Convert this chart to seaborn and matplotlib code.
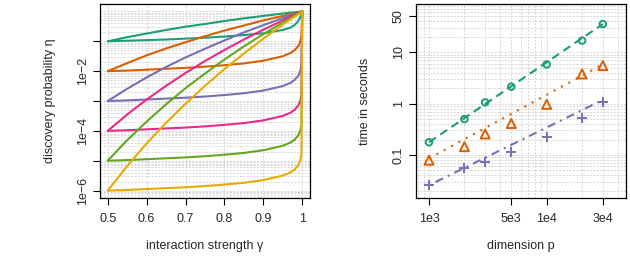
import numpy as np
import pandas as pd
import matplotlib
matplotlib.use("Agg")
import matplotlib.pyplot as plt
import seaborn as sns
from matplotlib.ticker import LogLocator, NullFormatter, FixedLocator

# left panel: discovery probability (log10 values)
gamma_up = [0.5, 0.55, 0.6, 0.65, 0.7, 0.75, 0.8, 0.85, 0.9, 0.95, 1.0]
up_teal = [-1, -0.86, -0.74, -0.62, -0.51, -0.42, -0.32, -0.23, -0.15, -0.07, 0]
up_orange = [-2, -1.73, -1.47, -1.24, -1.03, -0.83, -0.64, -0.47, -0.30, -0.15, 0]
up_purple = [-3, -2.59, -2.21, -1.86, -1.54, -1.25, -0.97, -0.70, -0.46, -0.22, 0]
up_pink = [-4, -3.45, -2.95, -2.49, -2.06, -1.66, -1.29, -0.94, -0.61, -0.30, 0]
up_green = [-5, -4.31, -3.69, -3.11, -2.57, -2.08, -1.61, -1.17, -0.76, -0.37, 0]
up_yellow = [-6, -5.18, -4.42, -3.73, -3.09, -2.49, -1.93, -1.41, -0.91, -0.44, 0]

gamma_low = [0.5, 0.55, 0.6, 0.65, 0.7, 0.75, 0.8, 0.85, 0.9, 0.95, 0.97, 0.98, 0.99, 0.995, 0.998, 1.0]
low_teal = [-1, -0.98, -0.96, -0.94, -0.91, -0.88, -0.84, -0.79, -0.73, -0.62, -0.54, -0.46, -0.32, -0.20, -0.10, 0]
low_orange = [-2, -1.98, -1.95, -1.92, -1.89, -1.85, -1.80, -1.74, -1.65, -1.50, -1.39, -1.30, -1.16, -1.02, -0.83, 0]
low_purple = [-3, -2.98, -2.95, -2.92, -2.89, -2.85, -2.80, -2.74, -2.65, -2.50, -2.39, -2.30, -2.15, -2.00, -1.80, 0]
low_pink = [-4, -3.98, -3.95, -3.92, -3.89, -3.85, -3.80, -3.74, -3.65, -3.50, -3.39, -3.30, -3.15, -3.00, -2.80, 0]
low_green = [-5, -4.98, -4.95, -4.92, -4.89, -4.85, -4.80, -4.74, -4.65, -4.50, -4.39, -4.30, -4.15, -4.00, -3.80, 0]
low_yellow = [-6, -5.98, -5.95, -5.92, -5.89, -5.85, -5.80, -5.74, -5.65, -5.50, -5.39, -5.30, -5.15, -5.00, -4.80, 0]

# right panel: timings
dims = [1000, 2000, 3000, 5000, 10000, 20000, 30000]
time_circle = [0.177, 0.50, 1.06, 2.14, 5.8, 16.9, 35.6]
time_triangle = [0.079, 0.145, 0.256, 0.41, 0.97, 3.79, 5.5]
time_plus = [0.0257, 0.055, 0.072, 0.116, 0.227, 0.53, 1.06]
dims_fit = [1000, 30000]
fit_circle = [0.177, 35.5]
fit_triangle = [0.086, 5.8]
fit_plus = [0.0257, 1.18]

colors = ["#1B9E77", "#D95F02", "#7570B3", "#E7298A", "#66A61E", "#E6AB02"]
ups = [up_teal, up_orange, up_purple, up_pink, up_green, up_yellow]
lows = [low_teal, low_orange, low_purple, low_pink, low_green, low_yellow]

sns.set_style("ticks")
plt.rcParams["font.family"] = ["Liberation Sans", "DejaVu Sans"]
plt.rcParams["font.size"] = 9
plt.rcParams["axes.linewidth"] = 0.9

fig = plt.figure(figsize=(6.3, 2.7), dpi=100)
ax1 = fig.add_axes([100 / 630, 72 / 270, 210 / 630, 194 / 270])
ax2 = fig.add_axes([415.7 / 630, 72 / 270, 210.3 / 630, 194 / 270])

grid_kw = dict(color="#d6d6d6", linestyle=(0, (2, 1.5)), linewidth=0.7)

# ---- left
for c, u, l in zip(colors, ups, lows):
    sns.lineplot(x=gamma_up, y=10 ** np.array(u), ax=ax1, color=c, lw=1.5,
                 sort=False, estimator=None, legend=False)
    sns.lineplot(x=gamma_low, y=10 ** np.array(l), ax=ax1, color=c, lw=1.5,
                 sort=False, estimator=None, legend=False)

ax1.set_yscale("log")
ax1.set_xlim(0.48, 1.02)
ax1.set_ylim(10 ** -6.25, 10 ** 0.25)
ax1.set_xticks([0.5, 0.6, 0.7, 0.8, 0.9, 1.0])
ax1.set_xticklabels(["0.5", "0.6", "0.7", "0.8", "0.9", "1"])
ax1.yaxis.set_major_locator(FixedLocator([1e-6, 1e-5, 1e-4, 1e-3, 1e-2, 1e-1]))
ax1.set_yticklabels(["1e\u22126", "", "1e\u22124", "", "1e\u22122", ""])
ax1.yaxis.set_minor_locator(LogLocator(base=10, subs=np.arange(1, 10), numticks=30))
ax1.yaxis.set_minor_formatter(NullFormatter())
ax1.grid(True, which="both", axis="y", **grid_kw)
ax1.grid(True, which="major", axis="x", **grid_kw)
ax1.set_xlabel("interaction strength \u03b3")
ax1.set_ylabel("discovery probability \u03b7")

# ---- right
sns.lineplot(x=dims_fit, y=fit_circle, ax=ax2, color=colors[0], lw=1.5,
             linestyle=(0, (4, 2.5)), legend=False)
sns.lineplot(x=dims_fit, y=fit_triangle, ax=ax2, color=colors[1], lw=1.5,
             linestyle=(0, (1, 3)), legend=False)
sns.lineplot(x=dims_fit, y=fit_plus, ax=ax2, color=colors[2], lw=1.5,
             linestyle=(0, (1, 2.5, 4, 2.5)), legend=False)
ax2.scatter(dims, time_circle, marker="o", s=22, facecolors="none",
            edgecolors=colors[0], linewidths=1.4, zorder=3)
ax2.scatter(dims, time_triangle, marker="^", s=42, facecolors="none",
            edgecolors=colors[1], linewidths=1.4, zorder=3)
sns.scatterplot(x=dims, y=time_plus, ax=ax2, marker="+", s=60,
                color=colors[2], linewidth=1.4, zorder=3, legend=False)

ax2.set_xscale("log")
ax2.set_yscale("log")
ax2.set_xlim(771, 47200)
ax2.set_ylim(0.0145, 87.3)
ax2.xaxis.set_major_locator(FixedLocator([1e3, 5e3, 1e4, 3e4]))
ax2.set_xticklabels(["1e3", "5e3", "1e4", "3e4"])
ax2.yaxis.set_major_locator(FixedLocator([0.1, 1, 10, 50]))
ax2.set_yticklabels(["0.1", "1", "10", "50"])
for axis in (ax2.xaxis, ax2.yaxis):
    axis.set_minor_locator(LogLocator(base=10, subs=np.arange(1, 10), numticks=30))
    axis.set_minor_formatter(NullFormatter())
ax2.grid(True, which="both", **grid_kw)
ax2.set_xlabel("dimension p")
ax2.set_ylabel("time in seconds")

for ax in (ax1, ax2):
    ax.set_axisbelow(True)
    for s in ax.spines.values():
        s.set_color("black")
        s.set_linewidth(0.9)
    ax.tick_params(which="major", length=5, width=0.8, color="black",
                   labelsize=9)
    ax.tick_params(axis="x", which="major", pad=5.5)
    ax.tick_params(axis="y", which="major", pad=3, labelrotation=90)
    ax.tick_params(which="minor", length=0)
    for lab in ax.get_yticklabels():
        lab.set_verticalalignment("center")
    ax.xaxis.set_label_coords(0.5, -0.214)
    ax.yaxis.set_label_coords(-0.211, 0.5)

fig.savefig("out.png", dpi=100)
